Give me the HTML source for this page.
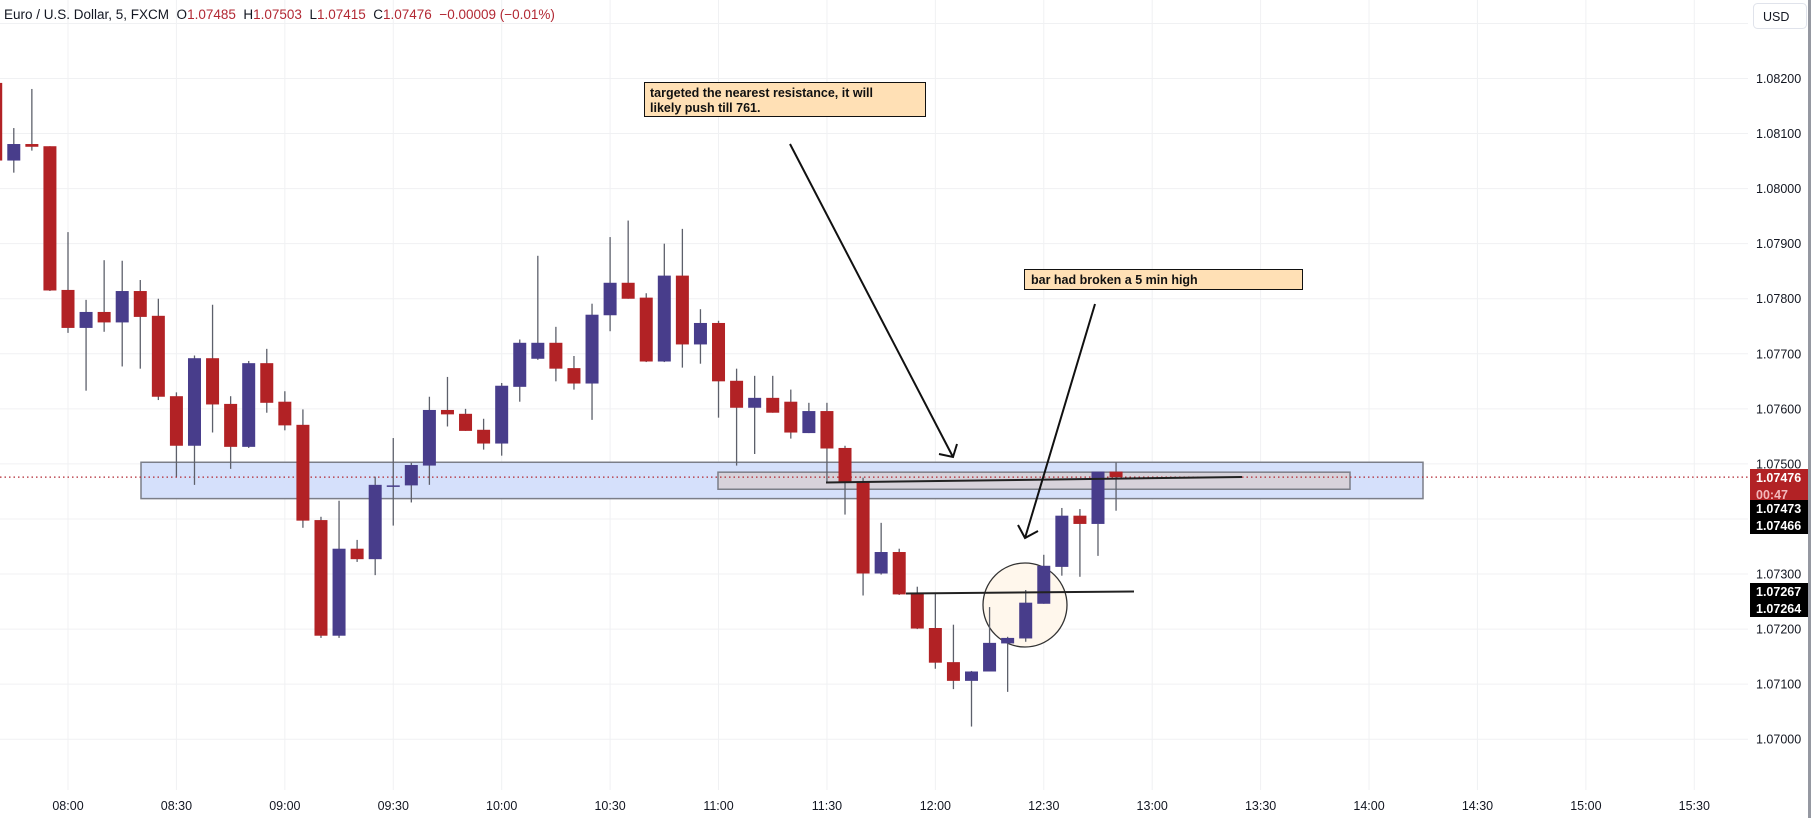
<!DOCTYPE html>
<html><head><meta charset="utf-8"><style>
html,body{margin:0;padding:0;background:#fff;}
svg{display:block;font-family:"Liberation Sans",sans-serif;}
</style></head><body>
<svg id="chart" width="1811" height="818" viewBox="0 0 1811 818" xmlns="http://www.w3.org/2000/svg">
<rect x="0" y="0" width="1811" height="818" fill="#ffffff"/>
<g id="grid"></g>
<g id="zones"></g>
<g id="candles"></g>
<g id="draw"></g>
<g id="axes"></g>
</svg>
<script>
const times = ["07:40","07:45","07:50","07:55","08:00","08:05","08:10","08:15","08:20","08:25","08:30","08:35","08:40","08:45","08:50","08:55","09:00","09:05","09:10","09:15","09:20","09:25","09:30","09:35","09:40","09:45","09:50","09:55","10:00","10:05","10:10","10:15","10:20","10:25","10:30","10:35","10:40","10:45","10:50","10:55","11:00","11:05","11:10","11:15","11:20","11:25","11:30","11:35","11:40","11:45","11:50","11:55","12:00","12:05","12:10","12:15","12:20","12:25","12:30","12:35","12:40","12:45","12:50"];
const opens  = [1.08192,1.08051,1.08081,1.08077,1.07816,1.07747,1.07776,1.07757,1.07814,1.07769,1.07623,1.07533,1.07692,1.07609,1.07531,1.07683,1.07613,1.07571,1.07398,1.07188,1.07346,1.07327,1.07461,1.07461,1.07497,1.07598,1.07591,1.07562,1.07537,1.07640,1.07691,1.07720,1.07674,1.07646,1.07770,1.07829,1.07802,1.07686,1.07842,1.07717,1.07756,1.07651,1.07602,1.07620,1.07613,1.07556,1.07596,1.07529,1.07468,1.07301,1.07340,1.07265,1.07202,1.07140,1.07106,1.07123,1.07174,1.07183,1.07246,1.07313,1.07406,1.07391,1.07486];
const highs  = [1.08197,1.08110,1.08181,1.08077,1.07921,1.07798,1.07870,1.07869,1.07834,1.07800,1.07630,1.07697,1.07789,1.07623,1.07687,1.07709,1.07632,1.07599,1.07404,1.07433,1.07362,1.07477,1.07547,1.07502,1.07622,1.07658,1.07600,1.07582,1.07647,1.07726,1.07878,1.07749,1.07696,1.07791,1.07912,1.07942,1.07810,1.07900,1.07927,1.07781,1.07760,1.07673,1.07660,1.07660,1.07635,1.07611,1.07611,1.07533,1.07475,1.07393,1.07346,1.07277,1.07266,1.07208,1.07124,1.07240,1.07186,1.07271,1.07335,1.07420,1.07418,1.07391,1.07503];
const lows   = [1.08043,1.08029,1.08069,1.07814,1.07738,1.07633,1.07740,1.07677,1.07673,1.07616,1.07477,1.07462,1.07557,1.07491,1.07529,1.07593,1.07561,1.07384,1.07184,1.07184,1.07322,1.07298,1.07388,1.07430,1.07462,1.07568,1.07560,1.07526,1.07515,1.07613,1.07689,1.07650,1.07635,1.07580,1.07741,1.07800,1.07685,1.07685,1.07675,1.07682,1.07584,1.07497,1.07518,1.07593,1.07546,1.07556,1.07466,1.07408,1.07261,1.07299,1.07262,1.07200,1.07128,1.07091,1.07023,1.07123,1.07086,1.07177,1.07246,1.07297,1.07295,1.07333,1.07415];
const closes = [1.08051,1.08081,1.08076,1.07815,1.07747,1.07776,1.07757,1.07814,1.07767,1.07622,1.07533,1.07692,1.07608,1.07531,1.07683,1.07611,1.07570,1.07397,1.07188,1.07346,1.07327,1.07462,1.07461,1.07498,1.07598,1.07590,1.07560,1.07537,1.07642,1.07720,1.07720,1.07673,1.07646,1.07771,1.07829,1.07800,1.07686,1.07842,1.07717,1.07756,1.07650,1.07602,1.07620,1.07593,1.07557,1.07596,1.07528,1.07466,1.07301,1.07340,1.07263,1.07201,1.07139,1.07106,1.07123,1.07175,1.07184,1.07248,1.07315,1.07406,1.07391,1.07486,1.07476];
const priceTicks = [1.08300,1.08200,1.08100,1.08000,1.07900,1.07800,1.07700,1.07600,1.07500,1.07400,1.07300,1.07200,1.07100,1.07000];
const priceTickLabels = ["","1.08200","1.08100","1.08000","1.07900","1.07800","1.07700","1.07600","1.07500","","1.07300","1.07200","1.07100","1.07000"];
const timeTicks = ["08:00","08:30","09:00","09:30","10:00","10:30","11:00","11:30","12:00","12:30","13:00","13:30","14:00","14:30","15:00","15:30"];

const NS="http://www.w3.org/2000/svg";
const PLOT_R=1748;
function y(p){return 78.5+(1.082-p)*55060;}
function mins(t){const a=t.split(":");return (+a[0])*60+(+a[1]);}
function x(t){return 68+(mins(t)-480)/5*18.07;}
function el(tag,attrs,parent,text){const e=document.createElementNS(NS,tag);for(const k in attrs)e.setAttribute(k,attrs[k]);if(text!==undefined)e.textContent=text;parent.appendChild(e);return e;}

const grid=document.getElementById('grid');
priceTicks.forEach((p,i)=>{
  const l=el('line',{x1:0,x2:PLOT_R,y1:y(p),y2:y(p),stroke:'#f0f1f3','stroke-width':1},grid);
  
  
});
timeTicks.forEach(t=>{
  const l=el('line',{x1:x(t),x2:x(t),y1:0,y2:790,stroke:'#f0f1f3','stroke-width':1},grid);
  
  
});

// zones
const zones=document.getElementById('zones');
const z1=el('rect',{x:141,y:y(1.07503),width:1282,height:y(1.07437)-y(1.07503),fill:'#d5e0fb',stroke:'#7b7e88','stroke-width':1.5},zones);


const z2=el('rect',{x:718,y:y(1.07485),width:632,height:y(1.07454)-y(1.07485),fill:'#d7d2da',stroke:'#7b7e88','stroke-width':1.5},zones);


const circ=el('circle',{cx:1025,cy:605,r:42,fill:'#fff7ec',stroke:'#333','stroke-width':1.3},zones);


const lp=el('line',{x1:0,x2:PLOT_R,y1:y(closes[closes.length-1]),y2:y(closes[closes.length-1]),stroke:'#b22833','stroke-width':1.2,'stroke-dasharray':'1.5 3'},zones);



// candles
const cg=document.getElementById('candles');
times.forEach((t,i)=>{
  const cx=x(t), up=closes[i]>=opens[i];
  const col=up?'#483d8b':'#b22225';
  const w=el('line',{x1:cx,x2:cx,y1:y(highs[i]),y2:y(lows[i]),stroke:'#5d606b','stroke-width':1.3},cg);
  
  
  const top=y(Math.max(opens[i],closes[i])), bot=y(Math.min(opens[i],closes[i]));
  const b=el('rect',{x:cx-6.5,y:top,width:13,height:Math.max(1.5,bot-top),fill:col},cg);
  
  
});

// drawings
const d=document.getElementById('draw');
const hl1=el('line',{x1:826,y1:482.5,x2:1242,y2:477,stroke:'#222','stroke-width':2},d);


const hl2=el('line',{x1:906,y1:593.5,x2:1134,y2:591.5,stroke:'#222','stroke-width':2},d);


const a1=el('path',{d:'M790 144 L953 457 M939 454 L953 457 L957 444',stroke:'#111','stroke-width':2,fill:'none'},d);


const a2=el('path',{d:'M1095 304 L1025 538 M1018 525 L1025 538 L1038 531',stroke:'#111','stroke-width':2,fill:'none'},d);


const n1=el('rect',{x:644.5,y:82.5,width:281,height:34,fill:'#ffe0b5',stroke:'#111','stroke-width':1},d);


const t1=el('text',{x:650,y:97,'font-size':12.5,'font-weight':'bold',fill:'#111'},d,'targeted the nearest resistance, it will');


const t2=el('text',{x:650,y:112,'font-size':12.5,'font-weight':'bold',fill:'#111'},d,'likely push till 761.');


const n2=el('rect',{x:1024.5,y:269.5,width:278,height:20,fill:'#ffe0b5',stroke:'#111','stroke-width':1},d);


const t3=el('text',{x:1031,y:284,'font-size':12.5,'font-weight':'bold',fill:'#111'},d,'bar had broken a 5 min high');



// axes
const ax=document.getElementById('axes');
priceTicks.forEach((p,i)=>{
  if(!priceTickLabels[i])return;
  const t=el('text',{x:1756,y:y(p)+4.5,'font-size':12.5,fill:'#131722'},ax,priceTickLabels[i]);
  
  
});
timeTicks.forEach(tt=>{
  const t=el('text',{x:x(tt),y:810,'font-size':12.5,fill:'#131722','text-anchor':'middle'},ax,tt);
  
  
});
function tag(yTop,h,bg,lines,name){
  const g=el('g',{},ax);
  
  
  el('rect',{x:1750,y:yTop,width:58,height:h,fill:bg},g);
  lines.forEach((L,k)=>{el('text',{x:1756,y:yTop+13+k*17,'font-size':12.5,'font-weight':'bold',fill:L[1]},g,L[0]);});
}
tag(469,31,'#b22225',[["1.07476","#fff"],["00:47","#f3b8bb"]],'last-price-tag');
tag(500,34,'#000',[["1.07473","#fff"],["1.07466","#fff"]],'zone-price-tags');
tag(583,34,'#000',[["1.07267","#fff"],["1.07264","#fff"]],'line-price-tags');
const usd=el('rect',{x:1753.5,y:3.5,width:53,height:25,rx:4,fill:'#fff',stroke:'#e0e3eb'},ax);


const ut=el('text',{x:1763,y:21,'font-size':12.5,fill:'#131722'},ax,'USD');


const edge=el('rect',{x:1808,y:0,width:3,height:818,fill:'#9598a1'},ax);



// header
const h=el('text',{x:4,y:19,'font-size':13.5,fill:'#131722'},ax);


const parts=[["Euro / U.S. Dollar, 5, FXCM  ","#131722"],["O","#131722"],["1.07485  ","#b22833"],["H","#131722"],["1.07503  ","#b22833"],["L","#131722"],["1.07415  ","#b22833"],["C","#131722"],["1.07476  −0.00009 (−0.01%)","#b22833"]];
parts.forEach(p=>{const s=el('tspan',{fill:p[1]},h,p[0]);s.setAttribute('xml:space','preserve');});
h.setAttribute('style','white-space:pre');
</script>
</body></html>
